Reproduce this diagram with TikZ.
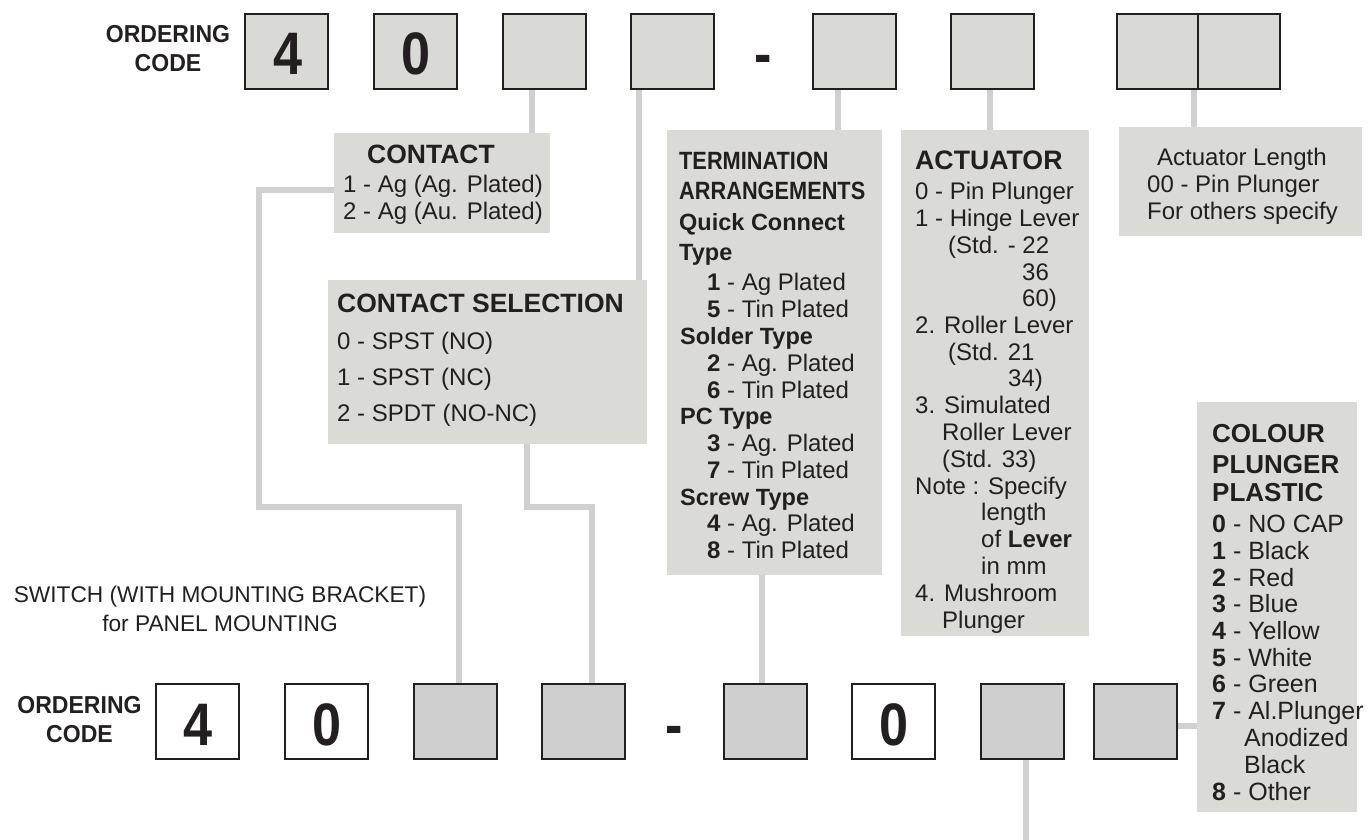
\documentclass[tikz,border=0pt]{standalone}
\usepackage{fontspec}
\setmainfont{Liberation Sans}
\newfontfamily\condA[FakeStretch=0.87]{Liberation Sans}
\newfontfamily\condB[FakeStretch=0.94]{Liberation Sans}
\usetikzlibrary{backgrounds}
\definecolor{infofill}{RGB}{218,219,214}
\definecolor{codefill}{RGB}{217,218,213}
\definecolor{grayfill}{RGB}{207,207,207}
\definecolor{linegray}{RGB}{208,208,208}
\definecolor{ink}{RGB}{35,31,32}
\tikzset{
  codebox/.style={draw=ink, line width=2.2pt, fill=codefill, minimum width=82.8pt, minimum height=74.8pt, inner sep=0pt, anchor=north west},
  graybox/.style={codebox, fill=grayfill},
  whitebox/.style={codebox, fill=white},
  infobox/.style={fill=infofill, inner sep=0pt, anchor=north west},
  conn/.style={draw=linegray, line width=6.5pt, line cap=butt, line join=miter},
  txt/.style={anchor=base west, inner sep=0pt, text=ink, font=\fontsize{24}{24}\selectfont},
  ctxt/.style={txt, anchor=base},
  hdr/.style={txt, font=\fontsize{26.5}{26.5}\selectfont\bfseries},
  thdr/.style={txt, font=\condA\fontsize{25}{25}\selectfont\bfseries},
  shdr/.style={txt, font=\fontsize{23.5}{23.5}\selectfont\bfseries},
  ordtxt/.style={ctxt, font=\condB\fontsize{24.5}{24.5}\selectfont\bfseries},
  swtxt/.style={ctxt, font=\fontsize{22.7}{22.7}\selectfont},
  digit/.style={ctxt, font=\condA\fontsize{60}{60}\selectfont\bfseries},
  coltxt/.style={txt, font=\fontsize{25}{25}\selectfont},
  colhdr/.style={txt, font=\fontsize{26}{26}\selectfont\bfseries}
}
\begin{document}
\begin{tikzpicture}[x=1pt,y=-1pt]
\useasboundingbox (0,0) rectangle (1371,840);

% ---------- top ordering code ----------
\node[ordtxt] (ord1) at (168,43) {ORDERING};
\node[ordtxt] (code1) at (168,72) {CODE};
\node[codebox] (t1) at (244.1,13.1) {};
\node[codebox] (t2) at (373.1,13.1) {};
\node[codebox] (t3) at (502.1,13.1) {};
\node[codebox] (t4) at (630.1,13.1) {};
\node[codebox] (t5) at (812.1,13.1) {};
\node[codebox] (t6) at (950.1,13.1) {};
\node[codebox, minimum width=80.9pt] (t7) at (1116.1,13.1) {};
\node[codebox, minimum width=81.9pt] (t8) at (1197,13.1) {};
\node[digit] (d1) at (288,75) {4};
\node[digit] (d2) at (416,75) {0};
\node[digit] (dash1) at (763.5,75) {-};

% ---------- bottom ordering code ----------
\node[swtxt] (sw1) at (220,602) {SWITCH (WITH MOUNTING BRACKET)};
\node[swtxt] (sw2) at (220,631) {for PANEL MOUNTING};
\node[ordtxt] (ord2) at (79.5,713) {ORDERING};
\node[ordtxt] (code2) at (79.5,742) {CODE};
\node[whitebox] (b1) at (155.1,683.1) {};
\node[whitebox] (b2) at (284.1,683.1) {};
\node[graybox] (b3) at (413.1,683.1) {};
\node[graybox] (b4) at (541.1,683.1) {};
\node[graybox] (b5) at (723.1,683.1) {};
\node[whitebox] (b6) at (851.1,683.1) {};
\node[graybox] (b7) at (980.1,683.1) {};
\node[graybox] (b8) at (1093.1,683.1) {};
\node[digit] (d3) at (198.5,745) {4};
\node[digit] (d4) at (327,745) {0};
\node[digit] (d5) at (894,745) {0};
\node[digit] (dash2) at (674.5,745) {-};

% ---------- information boxes ----------
\node[infobox, minimum width=216pt, minimum height=100pt] (contact) at (334,133) {};
\node[infobox, minimum width=319pt, minimum height=164pt] (csel) at (328,280) {};
\node[infobox, minimum width=215pt, minimum height=445pt] (term) at (667,130) {};
\node[infobox, minimum width=188pt, minimum height=506pt] (act) at (901,130) {};
\node[infobox, minimum width=243pt, minimum height=109pt] (alen) at (1119,127) {};
\node[infobox, minimum width=160pt, minimum height=410pt] (colour) at (1197,402) {};

% CONTACT
\node[hdr] (contacth) at (367,164) {CONTACT};
\node[txt] (contact1) at (343,192) {1 - Ag (Ag. Plated)};
\node[txt] (contact2) at (343,219) {2 - Ag (Au. Plated)};

% CONTACT SELECTION
\node[hdr] (cselh) at (337,312) {CONTACT SELECTION};
\node[txt] (csel1) at (337,349) {0 - SPST (NO)};
\node[txt] (csel2) at (337,385) {1 - SPST (NC)};
\node[txt] (csel3) at (337,421) {2 - SPDT (NO-NC)};

% TERMINATION
\node[thdr] (termh1) at (679,170) {TERMINATION};
\node[thdr] (termh2) at (679,200) {ARRANGEMENTS};
\node[shdr] (termh3) at (679,230) {Quick Connect};
\node[shdr] (termh4) at (679,260) {Type};
\node[txt] (term1) at (707,290) {\textbf{1} - Ag Plated};
\node[txt] (term2) at (707,317) {\textbf{5} - Tin Plated};
\node[shdr] (termh5) at (680,344) {Solder Type};
\node[txt] (term3) at (707,371) {\textbf{2} - Ag. Plated};
\node[txt] (term4) at (707,398) {\textbf{6} - Tin Plated};
\node[shdr] (termh6) at (680,424) {PC Type};
\node[txt] (term5) at (707,451) {\textbf{3} - Ag. Plated};
\node[txt] (term6) at (707,478) {\textbf{7} - Tin Plated};
\node[shdr] (termh7) at (680,505) {Screw Type};
\node[txt] (term7) at (707,531) {\textbf{4} - Ag. Plated};
\node[txt] (term8) at (707,558) {\textbf{8} - Tin Plated};

% ACTUATOR
\node[txt, font=\fontsize{26.7}{26.7}\selectfont\bfseries] (acth) at (915,170) {ACTUATOR};
\foreach \x/\y/\t [count=\i] in {
  915/199/{0 - Pin Plunger},
  915/226/{1 - Hinge Lever},
  948/253/{(Std. - 22},
  1022/280/{36},
  1022/306/{60)},
  915/333/{2. Roller Lever},
  948/360/{(Std. 21},
  1008/386/{34)},
  915/413/{3. Simulated},
  942/440/{Roller Lever},
  942/467/{(Std. 33)},
  915/494/{Note : Specify},
  981/520/{length},
  981/547/{of \textbf{Lever}},
  981/574/{in mm},
  915/601/{4. Mushroom},
  942/628/{Plunger}}
  \node[txt] (act\i) at (\x,\y) {\t};

% Actuator length
\node[txt] (alen1) at (1157,165) {Actuator Length};
\node[txt] (alen2) at (1147,193) {00 - Pin Plunger};
\node[txt] (alen3) at (1147,219) {For others specify};

% COLOUR
\node[colhdr] (colh1) at (1212,442) {COLOUR};
\node[colhdr] (colh2) at (1212,473) {PLUNGER};
\node[colhdr] (colh3) at (1212,501) {PLASTIC};
\foreach \x/\y/\t [count=\i] in {
  1212/532/{\textbf{0} - NO CAP},
  1212/559/{\textbf{1} - Black},
  1212/586/{\textbf{2} - Red},
  1212/612/{\textbf{3} - Blue},
  1212/639/{\textbf{4} - Yellow},
  1212/666/{\textbf{5} - White},
  1212/692/{\textbf{6} - Green},
  1212/719/{\textbf{7} - Al.Plunger},
  1244/746/{Anodized},
  1244/773/{Black},
  1212/800/{\textbf{8} - Other}}
  \node[coltxt] (col\i) at (\x,\y) {\t};

% ---------- connectors ----------
\coordinate (x532) at (532,0);
\coordinate (x639) at (639,0);
\coordinate (x838) at (838,0);
\coordinate (x990) at (990,0);
\coordinate (x1194) at (1194,0);
\coordinate (y190) at (0,190);
\coordinate (k1) at (259,190);
\coordinate (k2) at (259,507);
\coordinate (k3) at (459,507);
\coordinate (x527) at (527,0);
\coordinate (k4) at (527,507);
\coordinate (k5) at (592,507);
\coordinate (x762) at (762,0);
\coordinate (x1026) at (1026,0);
\coordinate (endb7) at (1026,840);
\coordinate (y726) at (0,726);

\begin{scope}[on background layer]
\draw[conn] (t3.south -| x532) -- (contact.north -| x532);
\draw[conn] (t4.south -| x639) -- (csel.north -| x639);
\draw[conn] (t5.south -| x838) -- (term.north -| x838);
\draw[conn] (t6.south -| x990) -- (act.north -| x990);
\draw[conn] (t7.south -| x1194) -- (alen.north -| x1194);
\draw[conn] (contact.west |- y190) -- (k1) -- (k2) -- (k3) -- (b3.north -| k3);
\draw[conn] (csel.south -| x527) -- (k4) -- (k5) -- (b4.north -| k5);
\draw[conn] (term.south -| x762) -- (b5.north -| x762);
\draw[conn] (b7.south -| x1026) -- (endb7);
\draw[conn] (b8.east |- y726) -- (colour.west |- y726);
\end{scope}
\end{tikzpicture}
\end{document}
